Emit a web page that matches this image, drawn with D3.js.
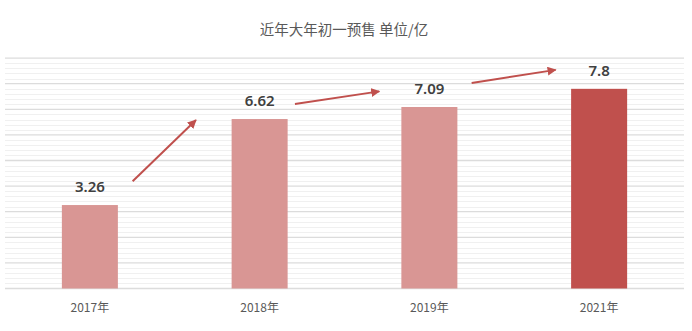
<!DOCTYPE html>
<html><head><meta charset="utf-8">
<script src="https://cdn.jsdelivr.net/npm/d3@7"></script>
<style>html,body{margin:0;padding:0;background:#fff;}svg{display:block;}</style>
</head><body>
<script>
const title = "近年大年初一预售 单位/亿";
const categories = ["2017年", "2018年", "2019年", "2021年"];
const values = [3.26, 6.62, 7.09, 7.8];
const highlight = [false, false, false, true];
// arrows in (band-position, value) units
const arrowStarts = [[0.752, 4.19], [1.708, 7.21], [2.749, 8.03]];
const arrowEnds = [[1.125, 6.58], [2.205, 7.70], [3.244, 8.54]];
const yMax = 9;

const W = 692, H = 331;
const mLeft = 5, mRight = 684, mTop = 58.1, mBottom = 288.5;

const svg = d3.select("body").append("svg").attr("width", W).attr("height", H);
const x = d3.scaleBand().domain(categories).range([mLeft, mRight]).paddingInner(0.67).paddingOuter(0.335);
const xPos = d3.scaleLinear().domain([0, categories.length]).range([mLeft, mRight]);
const y = d3.scaleLinear().domain([0, yMax]).range([mBottom, mTop]);

// minor gridlines
const minor = d3.range(0, yMax + 0.001, 0.2).filter(v => Math.abs(v - Math.round(v)) > 0.01);
svg.append("g").selectAll("line").data(minor).join("line")
  .attr("x1", mLeft).attr("x2", mRight)
  .attr("y1", d => Math.round(y(d)) + 0.5).attr("y2", d => Math.round(y(d)) + 0.5)
  .attr("stroke", "#f0f0f0").attr("stroke-width", 1);
// major gridlines
svg.append("g").selectAll("line").data(d3.range(0, yMax + 1)).join("line")
  .attr("x1", mLeft).attr("x2", mRight)
  .attr("y1", d => y(d)).attr("y2", d => y(d))
  .attr("stroke", "#dcdcdc").attr("stroke-width", 1.3);

// bars
svg.append("g").selectAll("rect").data(values).join("rect")
  .attr("x", (d, i) => x(categories[i]))
  .attr("width", x.bandwidth())
  .attr("y", d => y(d))
  .attr("height", d => y(0) - y(d))
  .attr("fill", (d, i) => highlight[i] ? "#c0504d" : "#d99694");

// value labels
svg.append("g").selectAll("text").data(values).join("text")
  .attr("x", (d, i) => x(categories[i]) + x.bandwidth() / 2)
  .attr("y", d => y(d) - 13)
  .attr("text-anchor", "middle")
  .attr("font-family", "'Noto Sans', 'Noto Sans CJK SC', sans-serif")
  .attr("font-weight", 600)
  .attr("font-size", 15)
  .attr("fill", "#404040")
  .text(d => d);

// x axis labels
svg.append("g").selectAll("text").data(categories).join("text")
  .attr("x", d => x(d) + x.bandwidth() / 2)
  .attr("y", 312)
  .attr("text-anchor", "middle")
  .attr("font-family", "'Noto Sans CJK SC', sans-serif")
  .attr("font-size", 12)
  .attr("fill", "#595959")
  .text(d => d);

// title
svg.append("text")
  .attr("x", 344).attr("y", 35)
  .attr("text-anchor", "middle")
  .attr("font-family", "'Noto Sans CJK SC', sans-serif")
  .attr("font-size", 14.5)
  .attr("fill", "#595959")
  .text(title);

// arrows
svg.append("defs").append("marker")
  .attr("id", "ah").attr("viewBox", "0 0 10 10")
  .attr("refX", 9).attr("refY", 5)
  .attr("markerWidth", 4.5).attr("markerHeight", 4.5)
  .attr("markerUnits", "strokeWidth")
  .attr("orient", "auto")
  .append("path").attr("d", "M0,0L10,5L0,10Z").attr("fill", "#c0504d");

svg.append("g").selectAll("line").data(arrowStarts).join("line")
  .attr("x1", d => xPos(d[0])).attr("y1", d => y(d[1]))
  .attr("x2", (d, i) => xPos(arrowEnds[i][0])).attr("y2", (d, i) => y(arrowEnds[i][1]))
  .attr("stroke", "#c0504d").attr("stroke-width", 2)
  .attr("marker-end", "url(#ah)");
</script>
</body></html>
